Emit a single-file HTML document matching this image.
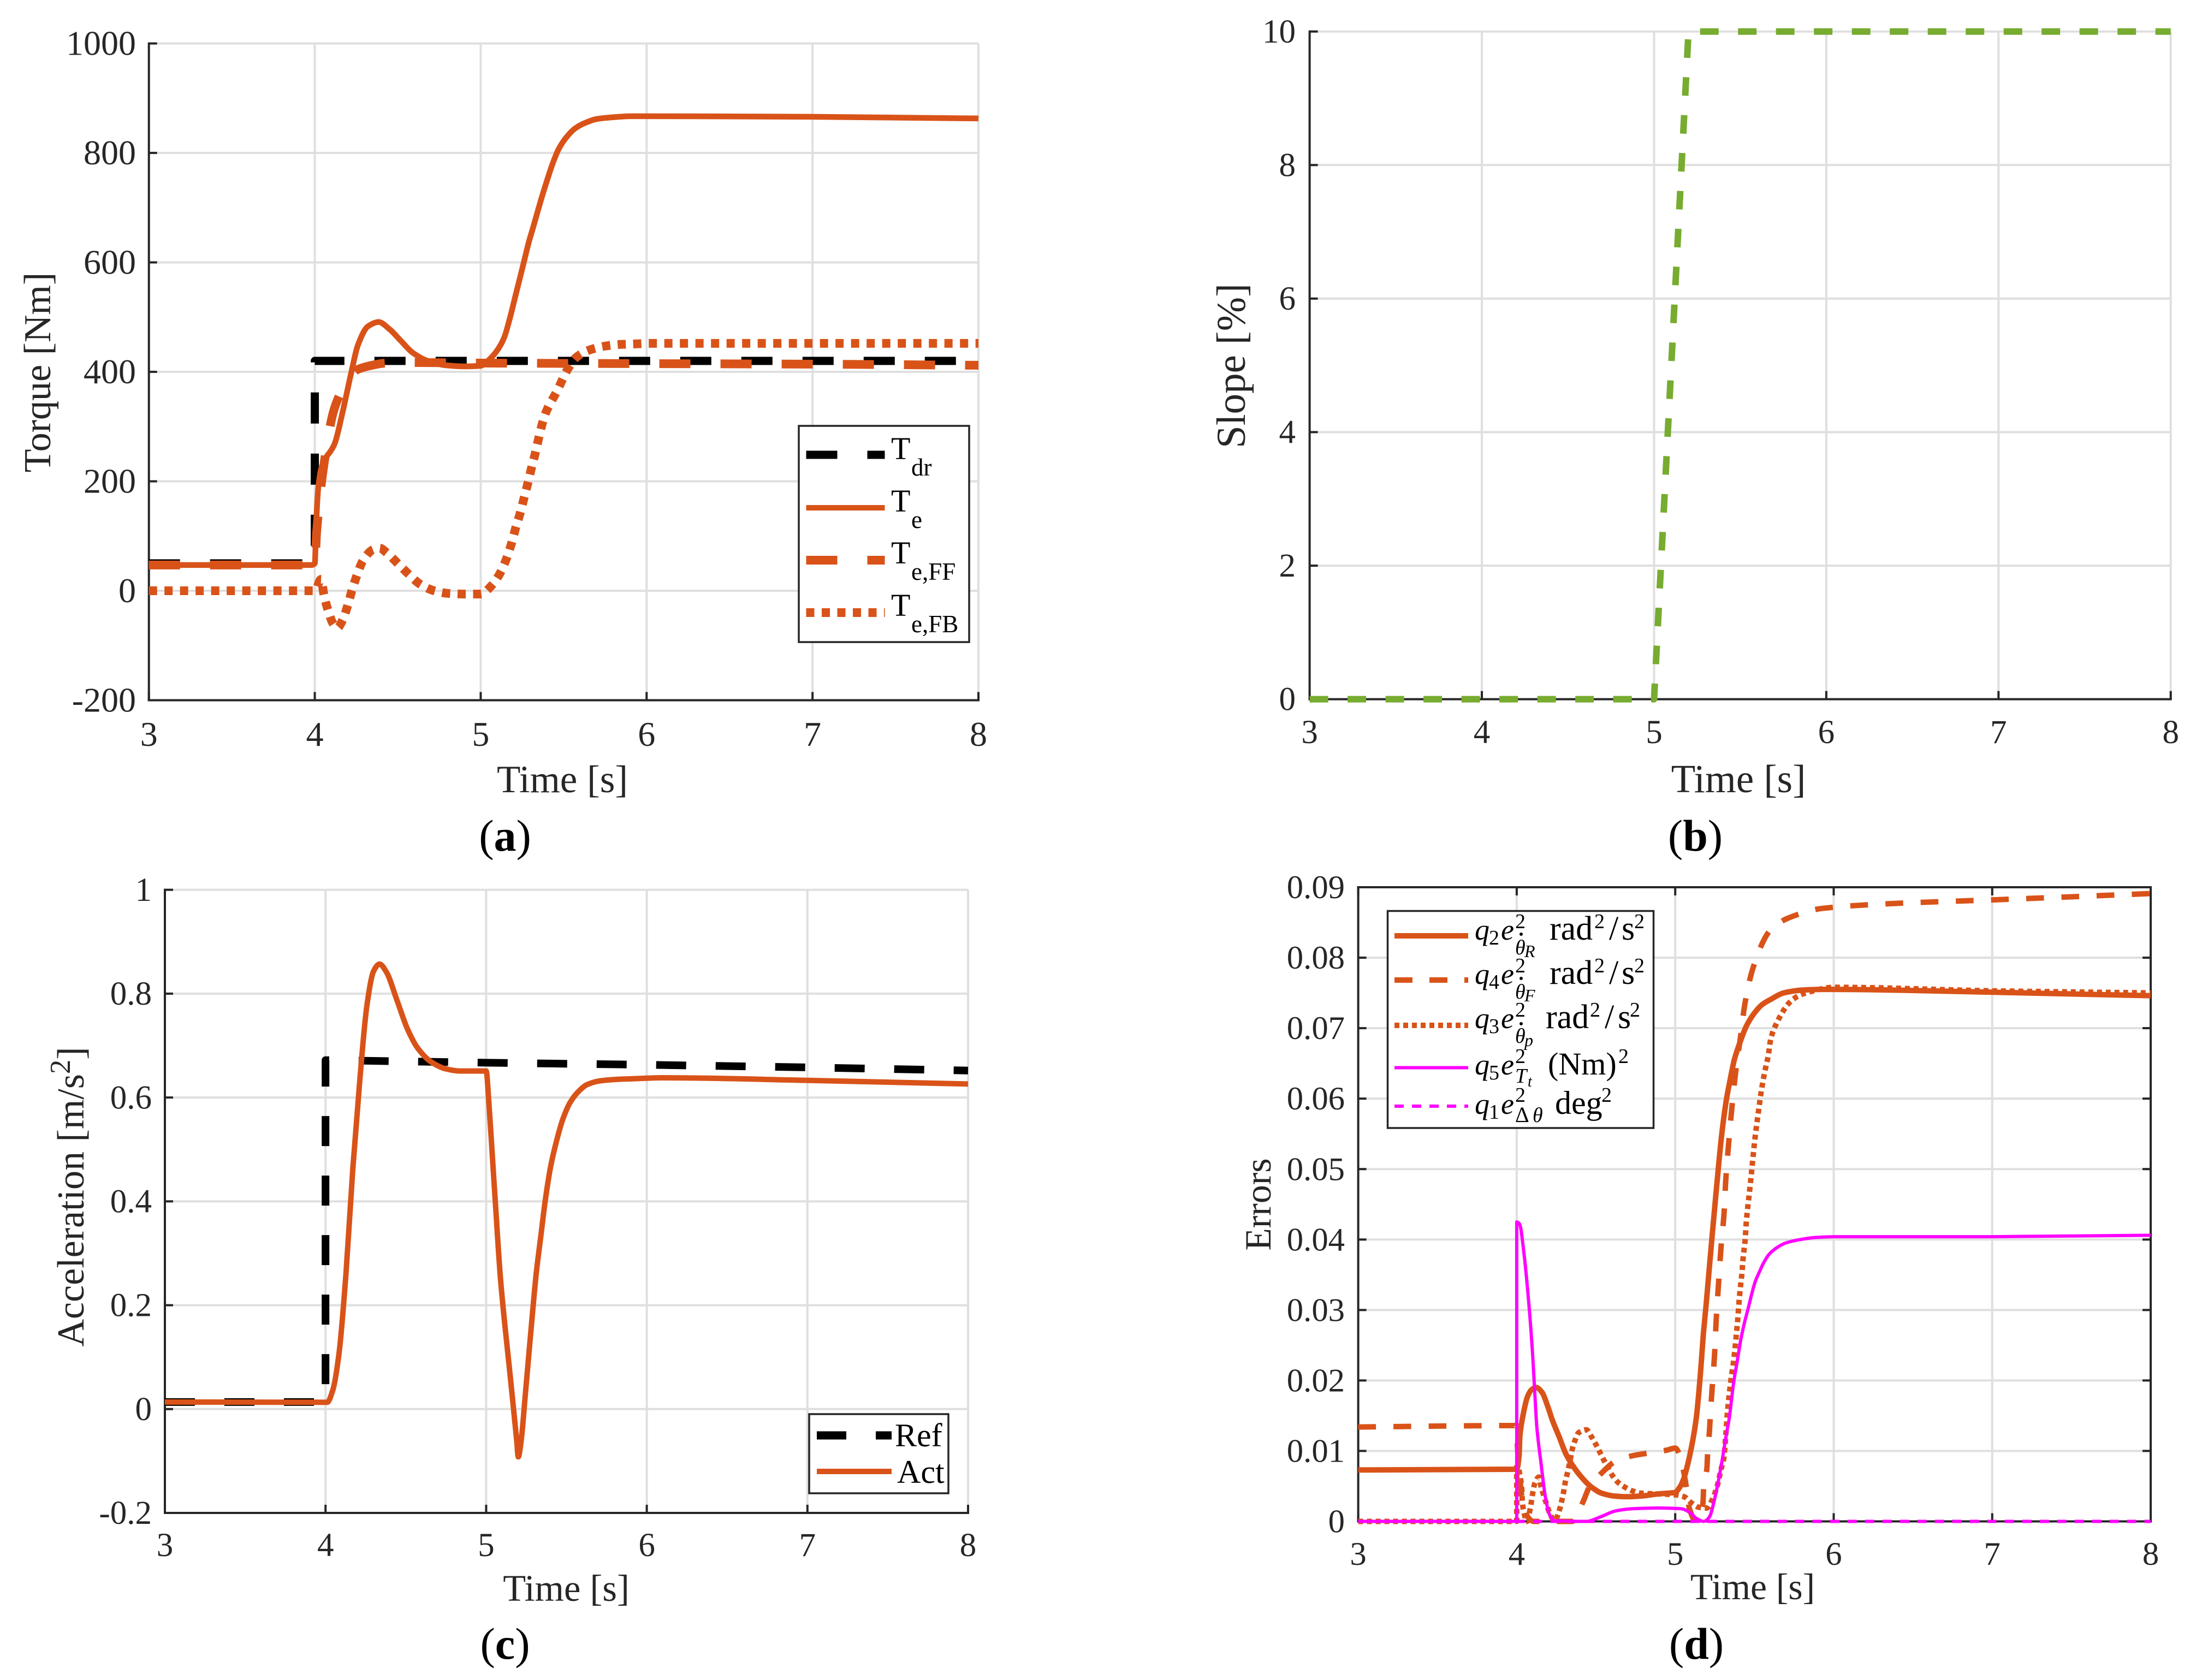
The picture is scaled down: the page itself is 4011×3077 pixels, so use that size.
<!DOCTYPE html>
<html lang="en">
<head>
<meta charset="utf-8">
<title>Torque, slope, acceleration and errors</title>
<style>
html,body{margin:0;padding:0;background:#fff;}
svg{display:block;}
text{font-family:"Liberation Serif",serif;fill:#262626;}
.lg text,.cap{fill:#000;}
.it{font-style:italic;}
.cap{font-weight:normal;font-size:82px;text-anchor:middle;}
.cap tspan{font-weight:bold;}
</style>
</head>
<body>
<svg id="figure" xmlns="http://www.w3.org/2000/svg" width="4011" height="3077" viewBox="0 0 4011 3077">
<rect x="0" y="0" width="4011" height="3077" fill="#fff"/>

<g id="plot-a"></g>
<g class="lg">
  <rect x="1463" y="780" width="312" height="396" fill="#fff" stroke="#262626" stroke-width="3.5"/>
  <line x1="1476.5" x2="1620.5" y1="833" y2="833" stroke="#000" stroke-width="15" stroke-dasharray="57 55"/>
  <line x1="1476.5" x2="1620.5" y1="930" y2="930" stroke="#D95319" stroke-width="10"/>
  <line x1="1476.5" x2="1620.5" y1="1026" y2="1026" stroke="#D95319" stroke-width="16" stroke-dasharray="57 55"/>
  <line x1="1476.5" x2="1620.5" y1="1122" y2="1122" stroke="#D95319" stroke-width="16" stroke-dasharray="15 13.5"/>
  <text x="1632" y="841" font-size="58">T</text>
  <text x="1669" y="871" font-size="45">dr</text>
  <text x="1632" y="937" font-size="58">T</text>
  <text x="1669" y="967" font-size="45">e</text>
  <text x="1632" y="1032" font-size="58">T</text>
  <text x="1669" y="1062" font-size="45">e,FF</text>
  <text x="1632" y="1128" font-size="58">T</text>
  <text x="1669" y="1158" font-size="45">e,FB</text>
</g>
<text class="cap" x="925" y="1558">(<tspan>a</tspan>)</text>

<g id="plot-b"></g>
<text class="cap" x="3105" y="1558">(<tspan>b</tspan>)</text>

<g id="plot-c"></g>
<g class="lg">
  <rect x="1482" y="2590" width="255" height="145" fill="#fff" stroke="#262626" stroke-width="3.5"/>
  <line x1="1496" x2="1633" y1="2629" y2="2629" stroke="#000" stroke-width="15" stroke-dasharray="54 54"/>
  <line x1="1496" x2="1633" y1="2695" y2="2695" stroke="#D95319" stroke-width="10"/>
  <text x="1639" y="2649" font-size="60">Ref</text>
  <text x="1643" y="2716" font-size="60">Act</text>
</g>
<text class="cap" x="925" y="3038">(<tspan>c</tspan>)</text>

<g id="plot-d"></g>
<g class="lg" font-size="60">
  <rect x="2541.5" y="1668.5" width="487" height="397.5" fill="#fff" stroke="#262626" stroke-width="3.5"/>
  <line x1="2554" x2="2689" y1="1714" y2="1714" stroke="#D95319" stroke-width="10"/>
  <line x1="2554" x2="2689" y1="1795" y2="1795" stroke="#D95319" stroke-width="10" stroke-dasharray="33 31"/>
  <line x1="2554" x2="2689" y1="1878" y2="1878" stroke="#D95319" stroke-width="10" stroke-dasharray="9 7"/>
  <line x1="2554" x2="2689" y1="1955.5" y2="1955.5" stroke="#FF00FF" stroke-width="6"/>
  <line x1="2554" x2="2689" y1="2026" y2="2026" stroke="#FF00FF" stroke-width="6" stroke-dasharray="17 15"/>

  <g>
    <text class="it" font-size="54" x="2701" y="1721">q</text><text x="2727" y="1730" font-size="38">2</text>
    <text class="it" font-size="54" x="2749" y="1721">e</text><text x="2775" y="1700" font-size="38">2</text>
    <text class="it" x="2775" y="1748" font-size="38">θ</text><circle cx="2786" cy="1711" r="3"/><text class="it" x="2792" y="1753" font-size="32">R</text>
    <text x="2838" y="1721" font-size="62">rad</text><text x="2920" y="1700" font-size="38">2</text>
    <text x="2947" y="1721" font-size="62">/</text><text x="2970" y="1721" font-size="62">s</text><text x="2993" y="1700" font-size="38">2</text>
  </g>
  <g>
    <text class="it" font-size="54" x="2701" y="1802">q</text><text x="2727" y="1811" font-size="38">4</text>
    <text class="it" font-size="54" x="2749" y="1802">e</text><text x="2775" y="1781" font-size="38">2</text>
    <text class="it" x="2775" y="1829" font-size="38">θ</text><circle cx="2786" cy="1792" r="3"/><text class="it" x="2792" y="1834" font-size="32">F</text>
    <text x="2838" y="1802" font-size="62">rad</text><text x="2920" y="1781" font-size="38">2</text>
    <text x="2947" y="1802" font-size="62">/</text><text x="2970" y="1802" font-size="62">s</text><text x="2993" y="1781" font-size="38">2</text>
  </g>
  <g>
    <text class="it" font-size="54" x="2701" y="1883">q</text><text x="2727" y="1892" font-size="38">3</text>
    <text class="it" font-size="54" x="2749" y="1883">e</text><text x="2775" y="1862" font-size="38">2</text>
    <text class="it" x="2775" y="1910" font-size="38">θ</text><circle cx="2786" cy="1875" r="3"/><text class="it" x="2792" y="1916" font-size="32">p</text>
    <text x="2831" y="1883" font-size="62">rad</text><text x="2912" y="1862" font-size="38">2</text>
    <text x="2939" y="1883" font-size="62">/</text><text x="2963" y="1883" font-size="62">s</text><text x="2985" y="1862" font-size="38">2</text>
  </g>
  <g>
    <text class="it" font-size="54" x="2701" y="1968">q</text><text x="2727" y="1977" font-size="38">5</text>
    <text class="it" font-size="54" x="2749" y="1968">e</text><text x="2775" y="1947" font-size="38">2</text>
    <text class="it" x="2775" y="1983" font-size="38">T</text><text class="it" x="2798" y="1990" font-size="28">t</text>
    <text x="2835" y="1968" font-size="58">(Nm)</text><text x="2964" y="1947" font-size="38">2</text>
  </g>
  <g>
    <text class="it" font-size="54" x="2701" y="2040">q</text><text x="2727" y="2049" font-size="38">1</text>
    <text class="it" font-size="54" x="2749" y="2040">e</text><text x="2775" y="2018" font-size="38">2</text>
    <text x="2775" y="2055" font-size="40">Δ</text><text class="it" x="2807" y="2055" font-size="38">θ</text>
    <text x="2848" y="2040" font-size="60">deg</text><text x="2933" y="2018" font-size="38">2</text>
  </g>
</g>
<text class="cap" x="3107" y="3038">(<tspan>d</tspan>)</text>
</svg>

<script>
// ---------- shared tick values ----------
const timeTicks = [3, 4, 5, 6, 7, 8];

// ---------- (a) torque ----------
const torqueTicks = [-200, 0, 200, 400, 600, 800, 1000];
const tdrTime = [3, 4, 4, 8];
const tdrValues = [50, 50, 420, 420];
const teTime = [3, 3.98, 4, 4.008, 4.02, 4.04, 4.066, 4.095, 4.12, 4.165, 4.22, 4.26, 4.32, 4.385, 4.45, 4.515, 4.59, 4.68, 4.79, 4.9, 5.0, 5.033, 5.07, 5.11, 5.143, 5.175, 5.208, 5.236, 5.263, 5.29, 5.318, 5.345, 5.373, 5.4, 5.433, 5.47, 5.515, 5.57, 5.63, 5.7, 5.79, 5.9, 6, 7, 8];
const teValues = [47, 47, 50, 120, 185, 225, 243, 255, 269, 323, 399, 449, 483, 491, 478, 458, 435, 420, 412, 410, 411, 417.6, 428, 444, 464, 497, 537, 571, 604, 637, 666, 695, 724, 750, 780, 807, 828, 845, 855, 862, 865, 867, 867, 866, 863];
const teFfTime = [3, 4, 4.011, 4.05, 4.115, 4.18, 4.25, 4.33, 4.43, 4.6, 5, 6, 7, 8];
const teFfValues = [47, 47, 107, 220, 330, 375, 403, 411, 416, 417, 416, 415, 414, 412];
const teFbTime = [3, 4, 4.038, 4.054, 4.077, 4.11, 4.135, 4.17, 4.2, 4.225, 4.255, 4.29, 4.35, 4.39, 4.435, 4.5, 4.57, 4.635, 4.72, 4.81, 4.91, 5, 5.07, 5.12, 5.157, 5.185, 5.21, 5.237, 5.26, 5.283, 5.304, 5.327, 5.348, 5.37, 5.396, 5.46, 5.523, 5.578, 5.656, 5.75, 5.84, 5.93, 6.02, 7, 8];
const teFbValues = [0, 0, 21, -6, -33, -60, -68, -52, -25, 2, 29, 55, 75, 78, 69, 50, 29, 12, 0, -5, -6, -6, 11, 34, 60, 86, 114, 141, 168, 195, 222, 249, 277, 304, 328, 365, 404, 427, 440, 447, 450, 451, 452, 452, 452];

// ---------- (b) slope ----------
const slopeTicks = [0, 2, 4, 6, 8, 10];
const slopeTime = [3, 5, 5.2, 8];
const slopeValues = [0, 0, 10, 10];

// ---------- (c) acceleration ----------
const accelTicks = [-0.2, 0, 0.2, 0.4, 0.6, 0.8, 1];
const accelTickLabels = ['-0.2', '0', '0.2', '0.4', '0.6', '0.8', '1'];
const refTime = [3, 4, 4, 5, 6, 7, 8];
const refValues = [0.0135, 0.0135, 0.672, 0.667, 0.663, 0.658, 0.652];
const actTime = [3, 4.01, 4.045, 4.084, 4.127, 4.17, 4.214, 4.258, 4.3, 4.336, 4.38, 4.444, 4.51, 4.574, 4.66, 4.75, 4.834, 5, 5.017, 5.04, 5.06, 5.09, 5.15, 5.19, 5.2, 5.216, 5.246, 5.29, 5.312, 5.34, 5.368, 5.402, 5.437, 5.476, 5.522, 5.573, 5.629, 5.709, 5.822, 5.992, 6.094, 7, 8];
const actValues = [0.0135, 0.013, 0.036, 0.107, 0.26, 0.463, 0.636, 0.778, 0.844, 0.857, 0.841, 0.788, 0.732, 0.695, 0.668, 0.655, 0.651, 0.651, 0.59, 0.48, 0.384, 0.248, 0.063, -0.06, -0.092, -0.066, 0.036, 0.19, 0.262, 0.332, 0.402, 0.468, 0.515, 0.557, 0.59, 0.611, 0.625, 0.632, 0.635, 0.637, 0.638, 0.633, 0.626];

// ---------- (d) errors ----------
const errorTicks = [0, 0.01, 0.02, 0.03, 0.04, 0.05, 0.06, 0.07, 0.08, 0.09];
const errorTickLabels = ['0', '0.01', '0.02', '0.03', '0.04', '0.05', '0.06', '0.07', '0.08', '0.09'];
const q2Time = [3, 4, 4.015, 4.02, 4.041, 4.068, 4.094, 4.123, 4.16, 4.193, 4.226, 4.266, 4.312, 4.351, 4.404, 4.47, 4.536, 4.615, 4.694, 4.786, 4.892, 4.997, 5.03, 5.056, 5.083, 5.11, 5.133, 5.156, 5.179, 5.196, 5.213, 5.231, 5.257, 5.294, 5.322, 5.345, 5.374, 5.409, 5.449, 5.495, 5.546, 5.604, 5.684, 5.8, 5.914, 6, 7, 8];
const q2Values = [0.0073, 0.0074, 0.0093, 0.0121, 0.0152, 0.0177, 0.0187, 0.019, 0.0183, 0.0165, 0.0143, 0.0121, 0.0095, 0.008, 0.0064, 0.0049, 0.004, 0.0036, 0.0035, 0.0036, 0.0039, 0.0041, 0.0049, 0.0062, 0.0085, 0.0114, 0.0147, 0.0201, 0.0269, 0.031, 0.0354, 0.04, 0.0465, 0.055, 0.0597, 0.0625, 0.0656, 0.068, 0.0703, 0.072, 0.0733, 0.0741, 0.075, 0.0754, 0.0755, 0.0755, 0.0751, 0.0746];
const q4Time = [3, 4, 4.005, 4.02, 4.032, 4.074, 4.107, 4.22, 4.35, 4.417, 4.457, 4.542, 4.621, 4.727, 4.832, 4.944, 5, 5.03, 5.063, 5.09, 5.13, 5.15, 5.175, 5.18, 5.2, 5.205, 5.215, 5.221, 5.233, 5.248, 5.259, 5.273, 5.288, 5.308, 5.319, 5.337, 5.357, 5.38, 5.411, 5.44, 5.489, 5.569, 5.604, 5.71, 5.93, 6.385, 7, 8];
const q4Values = [0.0134, 0.0136, 0.0105, 0.0061, 0.0036, 0.0005, 0, 0, 0, 0.0027, 0.0048, 0.007, 0.0085, 0.0093, 0.0097, 0.0101, 0.0104, 0.0093, 0.0059, 0.0018, 0, 0.0006, 0.0026, 0.005, 0.0075, 0.01, 0.0125, 0.0147, 0.0189, 0.0235, 0.0287, 0.0336, 0.0386, 0.0437, 0.0485, 0.0536, 0.0586, 0.0635, 0.0686, 0.0735, 0.0784, 0.0829, 0.084, 0.0856, 0.087, 0.0877, 0.0882, 0.0891];
const q3Time = [3, 4, 4, 4.019, 4.032, 4.035, 4.041, 4.065, 4.085, 4.094, 4.103, 4.114, 4.14, 4.153, 4.167, 4.186, 4.206, 4.239, 4.252, 4.272, 4.285, 4.296, 4.305, 4.318, 4.332, 4.351, 4.368, 4.391, 4.44, 4.472, 4.5, 4.525, 4.552, 4.604, 4.641, 4.687, 4.733, 4.786, 4.99, 5.056, 5.103, 5.149, 5.2, 5.234, 5.267, 5.287, 5.307, 5.32, 5.328, 5.353, 5.368, 5.38, 5.395, 5.403, 5.414, 5.42, 5.429, 5.441, 5.449, 5.46, 5.466, 5.483, 5.5, 5.514, 5.529, 5.544, 5.564, 5.587, 5.604, 5.644, 5.673, 5.701, 5.738, 5.788, 5.839, 6, 7, 8];
const q3Values = [0, 0, 0.0085, 0.0067, 0.0046, 0.003, 0.0018, 0, 0.0018, 0.003, 0.0043, 0.0054, 0.0063, 0.005, 0.0039, 0.0026, 0.0013, 0.0001, 0.0005, 0.0018, 0.003, 0.0042, 0.0054, 0.0067, 0.0081, 0.0103, 0.0115, 0.0126, 0.013, 0.012, 0.0109, 0.0098, 0.0086, 0.0065, 0.0055, 0.0048, 0.0043, 0.004, 0.0038, 0.0035, 0.0026, 0.002, 0.0019, 0.0031, 0.0052, 0.0072, 0.009, 0.0125, 0.0151, 0.0203, 0.0227, 0.0252, 0.0288, 0.0312, 0.0338, 0.035, 0.0375, 0.0399, 0.0426, 0.0451, 0.0462, 0.0499, 0.0537, 0.0563, 0.0588, 0.0612, 0.0637, 0.0661, 0.0686, 0.0709, 0.0721, 0.0731, 0.074, 0.0747, 0.0751, 0.0758, 0.0753, 0.075];
const q5Time = [3, 4, 4, 4.018, 4.046, 4.078, 4.1, 4.11, 4.127, 4.153, 4.18, 4.206, 4.24, 4.443, 4.523, 4.628, 4.733, 4.892, 5.037, 5.09, 5.135, 5.18, 5.215, 5.248, 5.287, 5.327, 5.34, 5.368, 5.391, 5.414, 5.437, 5.46, 5.483, 5.506, 5.529, 5.558, 5.592, 5.638, 5.696, 5.788, 5.891, 6, 7, 8];
const q5Values = [0, 0, 0.0425, 0.0422, 0.038, 0.0305, 0.0238, 0.0199, 0.0134, 0.0083, 0.0036, 0.001, 0.0001, 0, 0.0006, 0.0015, 0.0018, 0.0019, 0.0018, 0.0013, 0.0004, 0, 0.0006, 0.0031, 0.0075, 0.0129, 0.0145, 0.0196, 0.0227, 0.0258, 0.0282, 0.0302, 0.0323, 0.0341, 0.0353, 0.0367, 0.0379, 0.0388, 0.0395, 0.04, 0.0403, 0.0404, 0.0404, 0.0406];
const q1Time = [3, 8];
const q1Values = [0, 0];

const SVG_NS = 'http://www.w3.org/2000/svg';
const AXIS_COLOR = '#262626';
const GRID_COLOR = '#dfdfdf';
const ORANGE = '#D95319';
const MAGENTA = '#FF00FF';
const GREEN = '#77AC30';

function linearScale(d0, d1, r0, r1) {
  return function (v) { return r0 + (v - d0) * (r1 - r0) / (d1 - d0); };
}

function drawLine(parent, x1, y1, x2, y2, color, width) {
  const el = document.createElementNS(SVG_NS, 'line');
  el.setAttribute('x1', x1);
  el.setAttribute('y1', y1);
  el.setAttribute('x2', x2);
  el.setAttribute('y2', y2);
  el.setAttribute('stroke', color);
  el.setAttribute('stroke-width', width);
  parent.appendChild(el);
  return el;
}

function drawText(parent, x, y, str, size, anchor) {
  const el = document.createElementNS(SVG_NS, 'text');
  el.setAttribute('x', x);
  el.setAttribute('y', y);
  el.setAttribute('font-size', size);
  el.setAttribute('text-anchor', anchor);
  el.textContent = str;
  parent.appendChild(el);
  return el;
}

// Monotone cubic path through the data points; vertical steps stay straight.
function smoothPath(px, py) {
  const n = px.length;
  const seg = [];
  for (let i = 0; i < n - 1; i++) {
    const dx = px[i + 1] - px[i];
    seg.push(dx > 0.01 ? (py[i + 1] - py[i]) / dx : null);
  }
  const tan = [];
  for (let i = 0; i < n; i++) {
    const a = i > 0 ? seg[i - 1] : seg[0];
    const b = i < n - 1 ? seg[i] : seg[n - 2];
    if (a === null || b === null || a * b <= 0) tan.push(0);
    else tan.push(2 * a * b / (a + b));
  }
  let d = 'M' + px[0].toFixed(1) + ' ' + py[0].toFixed(1);
  for (let i = 0; i < n - 1; i++) {
    const dx = px[i + 1] - px[i];
    if (seg[i] === null) {
      d += 'L' + px[i + 1].toFixed(1) + ' ' + py[i + 1].toFixed(1);
    } else {
      d += 'C' + (px[i] + dx / 3).toFixed(2) + ' ' + (py[i] + tan[i] * dx / 3).toFixed(2) + ' ' +
        (px[i + 1] - dx / 3).toFixed(2) + ' ' + (py[i + 1] - tan[i + 1] * dx / 3).toFixed(2) + ' ' +
        px[i + 1].toFixed(1) + ' ' + py[i + 1].toFixed(1);
    }
  }
  return d;
}

function straightPath(px, py) {
  let d = '';
  for (let i = 0; i < px.length; i++) {
    d += (i ? 'L' : 'M') + px[i].toFixed(1) + ' ' + py[i].toFixed(1);
  }
  return d;
}

function drawSeries(parent, name, xs, ys, sx, sy, color, width, dash, smooth) {
  const px = xs.map(sx);
  const py = ys.map(sy);
  const el = document.createElementNS(SVG_NS, 'path');
  
  
  el.setAttribute('d', smooth ? smoothPath(px, py) : straightPath(px, py));
  el.setAttribute('fill', 'none');
  el.setAttribute('stroke', color);
  el.setAttribute('stroke-width', width);
  el.setAttribute('stroke-linejoin', 'round');
  if (dash) el.setAttribute('stroke-dasharray', dash);
  parent.appendChild(el);
}

function drawFrame(cfg) {
  const g = document.getElementById(cfg.id);
  const sx = linearScale(3, 8, cfg.left, cfg.right);
  const sy = linearScale(cfg.yMin, cfg.yMax, cfg.bottom, cfg.top);

  const grid = document.createElementNS(SVG_NS, 'g');
  
  
  g.appendChild(grid);
  timeTicks.forEach(function (t) {
    if (t !== 3) drawLine(grid, sx(t), cfg.top, sx(t), cfg.bottom, GRID_COLOR, 4);
  });
  cfg.yTicks.forEach(function (v) {
    if (v !== cfg.yMin) drawLine(grid, cfg.left, sy(v), cfg.right, sy(v), GRID_COLOR, 4);
  });

  const axes = document.createElementNS(SVG_NS, 'g');
  
  
  g.appendChild(axes);
  drawLine(axes, cfg.left, cfg.top - 2, cfg.left, cfg.bottom + 2, AXIS_COLOR, 4);
  drawLine(axes, cfg.left - 2, cfg.bottom, cfg.right + 2, cfg.bottom, AXIS_COLOR, 4);
  if (cfg.box) {
    drawLine(axes, cfg.right, cfg.top - 2, cfg.right, cfg.bottom + 2, AXIS_COLOR, 4);
    drawLine(axes, cfg.left - 2, cfg.top, cfg.right + 2, cfg.top, AXIS_COLOR, 4);
  }
  timeTicks.forEach(function (t) {
    drawLine(axes, sx(t), cfg.bottom, sx(t), cfg.bottom - 15, AXIS_COLOR, 4);
    if (cfg.box) drawLine(axes, sx(t), cfg.top, sx(t), cfg.top + 15, AXIS_COLOR, 4);
  });
  cfg.yTicks.forEach(function (v) {
    drawLine(axes, cfg.left, sy(v), cfg.left + 15, sy(v), AXIS_COLOR, 4);
    if (cfg.box) drawLine(axes, cfg.right, sy(v), cfg.right - 15, sy(v), AXIS_COLOR, 4);
  });

  const labels = document.createElementNS(SVG_NS, 'g');
  
  
  g.appendChild(labels);
  timeTicks.forEach(function (t) {
    const el = drawText(labels, sx(t), cfg.xTickBase, String(t), cfg.tickSize, 'middle');
    
    
  });
  cfg.yTicks.forEach(function (v, i) {
    const str = cfg.yLabels ? cfg.yLabels[i] : String(v);
    const el = drawText(labels, cfg.yTickRight, sy(v) + cfg.tickSize * 0.33, str, cfg.tickSize, 'end');
    
    
  });

  const xt = drawText(g, cfg.xLabelX, cfg.xLabelBase, 'Time [s]', cfg.xLabelSize, 'middle');
  
  

  const yt = drawText(g, 0, 0, cfg.yLabel, cfg.yLabelSize, 'middle');
  
  
  yt.setAttribute('transform', 'translate(' + cfg.yLabelX + ' ' + cfg.yLabelY + ') rotate(-90)');
  if (cfg.yLabelSup) {
    const s0 = document.createElementNS(SVG_NS, 'tspan');
    s0.setAttribute('font-size', cfg.yLabelSize * 0.75);
    s0.setAttribute('dy', -cfg.yLabelSize * 0.36);
    s0.textContent = cfg.yLabelSup;
    yt.appendChild(s0);
    const s1 = document.createElementNS(SVG_NS, 'tspan');
    s1.setAttribute('dy', cfg.yLabelSize * 0.36);
    s1.textContent = ']';
    yt.appendChild(s1);
  }

  return { g: g, sx: sx, sy: sy };
}

const chartA = drawFrame({
  id: 'plot-a', left: 272.7, right: 1792, top: 79.6, bottom: 1282.5, yMin: -200, yMax: 1000,
  yTicks: torqueTicks, tickSize: 64, yTickRight: 249, xTickBase: 1366,
  xLabelX: 1030, xLabelBase: 1451, xLabelSize: 71,
  yLabel: 'Torque [Nm]', yLabelSize: 70, yLabelX: 92, yLabelY: 682
});
drawSeries(chartA.g, 'series-tdr', tdrTime, tdrValues, chartA.sx, chartA.sy, '#000', 15, '57 55', false);
drawSeries(chartA.g, 'series-te', teTime, teValues, chartA.sx, chartA.sy, ORANGE, 10.5, null, true);
drawSeries(chartA.g, 'series-te-ff', teFfTime, teFfValues, chartA.sx, chartA.sy, ORANGE, 16, '57 55', true);
drawSeries(chartA.g, 'series-te-fb', teFbTime, teFbValues, chartA.sx, chartA.sy, ORANGE, 16, '15 13.5', true);

const chartB = drawFrame({
  id: 'plot-b', left: 2398.6, right: 3975.7, top: 57.7, bottom: 1280.6, yMin: 0, yMax: 10,
  yTicks: slopeTicks, tickSize: 61, yTickRight: 2373, xTickBase: 1361,
  xLabelX: 3184, xLabelBase: 1451, xLabelSize: 73,
  yLabel: 'Slope [%]', yLabelSize: 75, yLabelX: 2280, yLabelY: 670
});
drawSeries(chartB.g, 'series-slope', slopeTime, slopeValues, chartB.sx, chartB.sy, GREEN, 12, '34 35.5', false);

const chartC = drawFrame({
  id: 'plot-c', left: 302, right: 1773, top: 1629.7, bottom: 2771, yMin: -0.2, yMax: 1,
  yTicks: accelTicks, yLabels: accelTickLabels, tickSize: 61, yTickRight: 278, xTickBase: 2850,
  xLabelX: 1037, xLabelBase: 2932, xLabelSize: 68.5,
  yLabel: 'Acceleration [m/s', yLabelSup: '2', yLabelSize: 70, yLabelX: 153, yLabelY: 2192
});
drawSeries(chartC.g, 'series-ref', refTime, refValues, chartC.sx, chartC.sy, '#000', 14, '55 54', false);
drawSeries(chartC.g, 'series-act', actTime, actValues, chartC.sx, chartC.sy, ORANGE, 10, null, true);

const chartD = drawFrame({
  id: 'plot-d', left: 2487.6, right: 3939, top: 1625, bottom: 2786.5, yMin: 0, yMax: 0.09, box: true,
  yTicks: errorTicks, yLabels: errorTickLabels, tickSize: 60.7, yTickRight: 2463, xTickBase: 2866,
  xLabelX: 3210, xLabelBase: 2929, xLabelSize: 67.5,
  yLabel: 'Errors', yLabelSize: 67.7, yLabelX: 2327, yLabelY: 2206
});
drawSeries(chartD.g, 'series-q2', q2Time, q2Values, chartD.sx, chartD.sy, ORANGE, 10, null, true);
drawSeries(chartD.g, 'series-q4', q4Time, q4Values, chartD.sx, chartD.sy, ORANGE, 10, '32.5 32', true);
drawSeries(chartD.g, 'series-q3', q3Time, q3Values, chartD.sx, chartD.sy, ORANGE, 10, '9 7', true);
drawSeries(chartD.g, 'series-q5', q5Time, q5Values, chartD.sx, chartD.sy, MAGENTA, 6, null, true);
drawSeries(chartD.g, 'series-q1', q1Time, q1Values, chartD.sx, chartD.sy, MAGENTA, 6, '17 15', false);
</script>
</body>
</html>
